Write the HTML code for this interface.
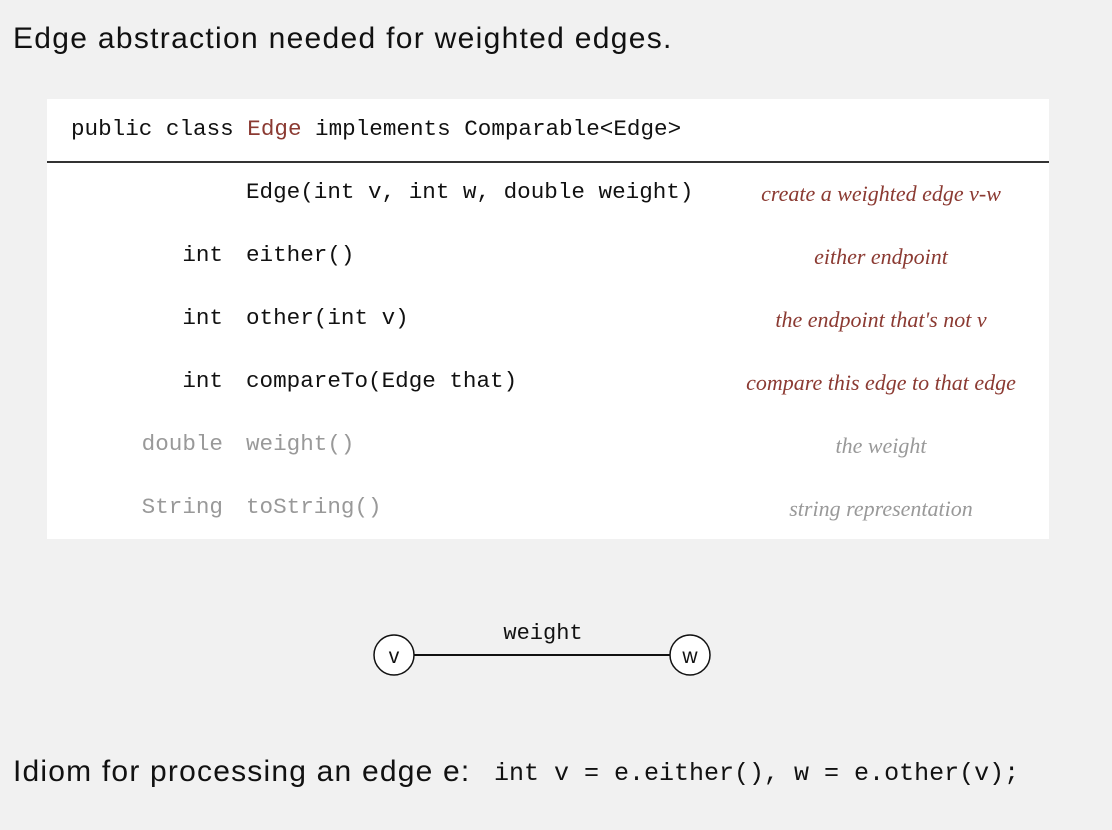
<!DOCTYPE html>
<html><head><meta charset="utf-8"><style>
body{margin:0;width:1112px;height:830px;background:#f1f1f1;position:relative;overflow:hidden;font-family:"Liberation Sans",sans-serif}
.a{position:absolute;white-space:pre}
.m{font-family:"Liberation Mono",monospace;font-size:22.6px;color:#111}
.d{font-family:"Liberation Serif",serif;font-style:italic;font-size:22px;color:#8b3a32;width:340px;text-align:center;left:711px}
.g{color:#999}
.r{text-align:right;width:160px;left:63px}
</style></head><body>
<div class="a" style="left:13px;top:22px;font-size:30px;letter-spacing:1.3px;color:#111">Edge abstraction needed for weighted edges.</div>
<div class="a" style="left:47px;top:99px;width:1002px;height:440px;background:#fff"></div>
<div class="a" style="left:47px;top:161px;width:1002px;height:2px;background:#333"></div>
<div class="a m" style="left:71px;top:116px">public class <span style="color:#8b3a32">Edge</span> implements Comparable&lt;Edge&gt;</div>

<div class="a m" style="left:246px;top:179px">Edge(int v, int w, double weight)</div>
<div class="a d" style="top:181px">create a weighted edge v-w</div>

<div class="a m r" style="top:242px">int</div>
<div class="a m" style="left:246px;top:242px">either()</div>
<div class="a d" style="top:244px">either endpoint</div>

<div class="a m r" style="top:305px">int</div>
<div class="a m" style="left:246px;top:305px">other(int v)</div>
<div class="a d" style="top:307px">the endpoint that's not v</div>

<div class="a m r" style="top:368px">int</div>
<div class="a m" style="left:246px;top:368px">compareTo(Edge that)</div>
<div class="a d" style="top:370px">compare this edge to that edge</div>

<div class="a m r g" style="top:431px">double</div>
<div class="a m g" style="left:246px;top:431px">weight()</div>
<div class="a d g" style="top:433px">the weight</div>

<div class="a m r g" style="top:494px">String</div>
<div class="a m g" style="left:246px;top:494px">toString()</div>
<div class="a d g" style="top:496px">string representation</div>

<svg class="a" style="left:0;top:0" width="1112" height="830">
<line x1="414" y1="655" x2="670" y2="655" stroke="#111" stroke-width="2"/>
<circle cx="394" cy="655" r="20" fill="#fff" stroke="#111" stroke-width="1.5"/>
<circle cx="690" cy="655" r="20" fill="#fff" stroke="#111" stroke-width="1.5"/>
<text x="394" y="663" text-anchor="middle" font-family="Liberation Sans" font-size="21" fill="#111">v</text>
<text x="690" y="663" text-anchor="middle" font-family="Liberation Sans" font-size="21" fill="#111">w</text>
<text x="543" y="639" text-anchor="middle" font-family="Liberation Mono" font-size="22" fill="#111">weight</text>
</svg>

<div class="a" style="left:13px;top:755px;font-size:30px;letter-spacing:1.2px;color:#111">Idiom for processing an edge e:</div>
<div class="a m" style="left:494px;top:759px;font-size:25px">int v = e.either(), w = e.other(v);</div>
</body></html>
